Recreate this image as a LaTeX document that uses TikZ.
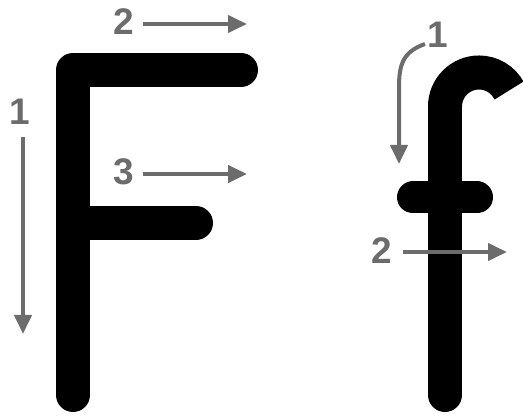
\documentclass[tikz,border=0pt]{standalone}
\usepackage{fontspec}
\setmainfont{Liberation Sans}
\usetikzlibrary{arrows.meta}
\definecolor{arrowgray}{RGB}{108,108,108}
\tikzset{
  letterstroke/.style={line width=34pt, black, line cap=round, line join=round},
  guide/.style={draw=arrowgray, line width=4pt, -{Triangle[length=19pt,width=17pt]}},
  numlabel/.style={text=arrowgray, font=\bfseries\fontsize{37}{37}\selectfont, inner sep=0pt}
}
\begin{document}
\begin{tikzpicture}[x=1pt,y=-1pt]
\useasboundingbox (0,0) rectangle (523,417);
% ---- capital F ----
\coordinate (Fbot) at (73,395);
\coordinate (Fcorner) at (73,70);
\coordinate (Ftop) at (241,70);
\coordinate (Fmidl) at (73,223);
\coordinate (Fmidr) at (196,223);
\draw[letterstroke] (Fbot) -- (Fcorner) -- (Ftop);
\draw[letterstroke] (Fmidl) -- (Fmidr);
% labels and guides for F
\node[numlabel] (n2) at (124,22) {2};
\node[numlabel] (n1) at (20,112) {1};
\node[numlabel] (n3) at (124,172) {3};
\coordinate (a2s) at (143,24); \coordinate (a2e) at (247,24);
\coordinate (a1s) at (23,137); \coordinate (a1e) at (23,334);
\coordinate (a3s) at (143,174); \coordinate (a3e) at (247,174);
\draw[guide] (a2s) -- (a2e);
\draw[guide] (a1s) -- (a1e);
\draw[guide] (a3s) -- (a3e);
% ---- small f ----
\coordinate (fbot) at (445,395);
\coordinate (fjoin) at (445,106.5);
\coordinate (fbarl) at (413,197.5);
\coordinate (fbarr) at (477,197.5);
\draw[letterstroke] (fbot) -- (fjoin);
\draw[line width=34pt, black, line cap=butt] (fjoin) arc[start angle=180, end angle=332, radius=34];
\draw[letterstroke, line width=32pt] (fbarl) -- (fbarr);
% labels and guides for f
\node[numlabel] (m1) at (438,35) {1};
\node[numlabel] (m2) at (382,251) {2};
\coordinate (b1s) at (425,44); \coordinate (b1e) at (399,164);
\draw[guide] (b1s) .. controls (402,52) and (399,66) .. (399,88) -- (b1e);
\coordinate (b2s) at (403,252); \coordinate (b2e) at (507,252);
\draw[guide] (b2s) -- (b2e);
\end{tikzpicture}
\end{document}
